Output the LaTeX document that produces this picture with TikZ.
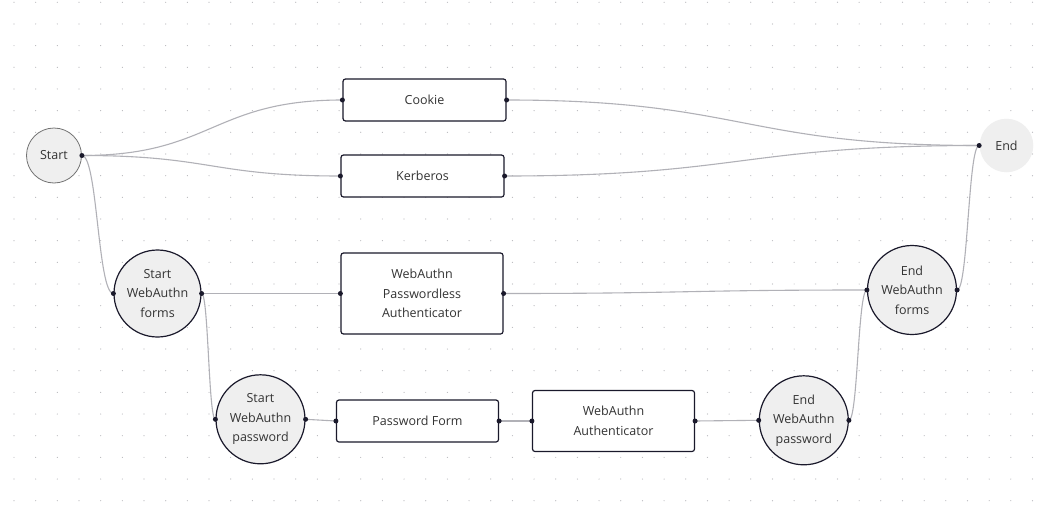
\documentclass[tikz,border=0pt]{standalone}
\usepackage{fontspec}
\setmainfont{Open Sans}
\usetikzlibrary{calc}
\definecolor{edgegray}{HTML}{B1B1B7}
\definecolor{portcol}{HTML}{1A192B}
\definecolor{nodeborder}{HTML}{1A192B}
\definecolor{circfill}{HTML}{EFEFEF}
\definecolor{griddot}{HTML}{B8B8BC}
\newcommand\flowedge[2]{\draw[edge] let \p1=(#1), \p2=(#2) in (\p1) .. controls ({0.5*\x1+0.5*\x2},\y1) and ({0.5*\x1+0.5*\x2},\y2) .. (\p2);}
\tikzset{
  edge/.style={draw=edgegray, line width=1.1pt},
  boxnode/.style={draw=nodeborder, fill=white, rounded corners=2.5pt, line width=1.2pt, align=center, inner sep=0pt, font=\fontsize{12.5}{19.5}\selectfont, text=black!80},
  circnode/.style={circle, draw=nodeborder, fill=circfill, line width=1.2pt, align=center, inner sep=0pt, font=\fontsize{12.5}{19.5}\selectfont, text=black!80},
  portdot/.style={circle, fill=portcol, inner sep=0pt, minimum size=5pt},
}
\begin{document}
\begin{tikzpicture}[x=1pt, y=-1pt]
\useasboundingbox (0,0) rectangle (1049,506);
\fill[white] (0,0) rectangle (1049,506);
% dot grid
\foreach \i in {0,...,47} {
  \foreach \j in {0,...,23} {
    \fill[griddot] ({14+21.67*\i},{2.3+21.67*\j}) circle (0.6);
  }
}
% nodes
\node[circnode, draw=black!55, line width=0.8pt, minimum size=55pt] (start) at (54,155.5) {Start};
\node[circnode, draw=none, minimum size=53.5pt] (end) at (1006.5,145.5) {End};
\node[boxnode, minimum width=163pt, minimum height=42pt] (cookie) at (424.5,100) {Cookie};
\node[boxnode, minimum width=163pt, minimum height=42pt] (kerb) at (422.5,176) {Kerberos};
\node[boxnode, minimum width=162pt, minimum height=81pt] (pwless) at (422,293.5) {WebAuthn\\Passwordless\\Authenticator};
\node[boxnode, minimum width=162pt, minimum height=42pt] (pwform) at (417.5,421) {Password Form};
\node[boxnode, minimum width=162pt, minimum height=61pt] (waauth) at (613.5,421) {WebAuthn\\Authenticator};
\node[circnode, minimum size=87pt] (swf) at (157.5,293.5) {Start\\WebAuthn\\forms};
\node[circnode, minimum size=89pt] (swp) at (260.5,419.3) {Start\\WebAuthn\\password};
\node[circnode, minimum size=89pt] (ewp) at (803.8,420.3) {End\\WebAuthn\\password};
\node[circnode, minimum size=89pt] (ewf) at (912,290) {End\\WebAuthn\\forms};
% edges
\flowedge{start.east}{cookie.west}
\flowedge{start.east}{kerb.west}
\flowedge{start.east}{swf.west}
\flowedge{cookie.east}{end.west}
\flowedge{kerb.east}{end.west}
\flowedge{swf.east}{pwless.west}
\flowedge{swf.east}{swp.west}
\flowedge{pwless.east}{ewf.west}
\flowedge{swp.east}{pwform.west}
\flowedge{pwform.east}{waauth.west}
\flowedge{waauth.east}{ewp.west}
\flowedge{ewp.east}{ewf.west}
\flowedge{ewf.east}{end.west}
% ports
\foreach \n in {start.east, end.west, cookie.west, cookie.east, kerb.west, kerb.east, pwless.west, pwless.east, pwform.west, pwform.east, waauth.west, waauth.east, swf.west, swf.east, swp.west, swp.east, ewp.west, ewp.east, ewf.west, ewf.east}
  \node[portdot] at (\n) {};
\end{tikzpicture}
\end{document}
